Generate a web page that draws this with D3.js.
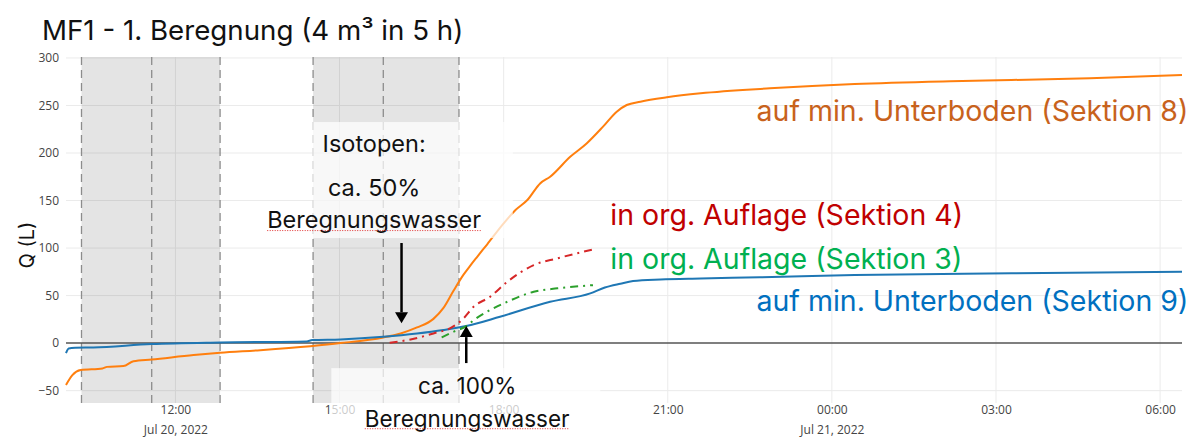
<!DOCTYPE html>
<html>
<head>
<meta charset="utf-8">
<script src="https://cdn.jsdelivr.net/npm/d3@7"></script>
<style>
  body { margin: 0; background: #fff; }
  svg { display: block; }
</style>
</head>
<body>
<svg id="chart" width="1192" height="437"></svg>
<script>
// ---- Data -------------------------------------------------------------
// Cumulative discharge Q (L) per section, MF1 first irrigation run.
const timesS8 = ["2022-07-20 10:00","2022-07-20 10:07","2022-07-20 10:16","2022-07-20 10:40","2022-07-20 10:45",
  "2022-07-20 11:03","2022-07-20 11:14","2022-07-20 11:34","2022-07-20 12:20","2022-07-20 12:49","2022-07-20 13:33",
  "2022-07-20 14:28","2022-07-20 15:01","2022-07-20 15:48","2022-07-20 16:07","2022-07-20 16:25","2022-07-20 16:43",
  "2022-07-20 16:54","2022-07-20 17:05","2022-07-20 17:16","2022-07-20 17:23","2022-07-20 17:31","2022-07-20 17:42",
  "2022-07-20 18:00","2022-07-20 18:13","2022-07-20 18:26","2022-07-20 18:40","2022-07-20 18:51","2022-07-20 19:13",
  "2022-07-20 19:31","2022-07-20 19:49","2022-07-20 20:04","2022-07-20 20:15","2022-07-20 20:30","2022-07-20 20:59",
  "2022-07-20 21:36","2022-07-20 22:52","2022-07-21 00:25","2022-07-21 02:10","2022-07-21 03:17","2022-07-21 04:43",
  "2022-07-21 06:24"];
const valuesS8 = [-44, -33.7, -28.4, -26.6, -25, -24.2, -19, -17.2, -12.6, -10.2, -7.4,
  -3.2, 0, 6, 10.2, 16.5, 25.5, 37, 55, 72, 81, 90.8, 104,
  126, 140, 150.5, 168, 175, 196, 210, 227.7, 243.5, 250.5, 254, 258.6,
  262.8, 268, 272.6, 275.5, 276.8, 278.6, 282];

const timesS9 = ["2022-07-20 10:00","2022-07-20 10:03","2022-07-20 10:10","2022-07-20 10:30","2022-07-20 11:34",
  "2022-07-20 12:49","2022-07-20 14:24","2022-07-20 14:30","2022-07-20 15:01","2022-07-20 15:48","2022-07-20 16:25",
  "2022-07-20 16:54","2022-07-20 17:19","2022-07-20 17:56","2022-07-20 18:51","2022-07-20 19:35","2022-07-20 19:51",
  "2022-07-20 20:08","2022-07-20 20:22","2022-07-20 20:52","2022-07-20 21:36","2022-07-20 22:41","2022-07-21 00:25",
  "2022-07-21 03:17","2022-07-21 06:24"];
const valuesS9 = [-10.5, -5.6, -4.9, -4.5, -1, 0.7, 1.8, 3.2, 3.9, 6.6, 10,
  13.7, 17.9, 27.7, 43.5, 52.3, 58.5, 62.5, 65.3, 67, 68, 69.2, 71.6, 73.5, 75];

const timesS4 = ["2022-07-20 15:55","2022-07-20 16:18","2022-07-20 16:43","2022-07-20 17:03","2022-07-20 17:16",
  "2022-07-20 17:27","2022-07-20 17:45","2022-07-20 18:04","2022-07-20 18:33","2022-07-20 18:59","2022-07-20 19:38"];
const valuesS4 = [0.3, 3.9, 10.2, 16.5, 26, 38.2, 48.7, 64.5, 82.1, 89.2, 98.6];

const timesS3 = ["2022-07-20 16:52","2022-07-20 17:05","2022-07-20 17:19","2022-07-20 17:27","2022-07-20 17:45",
  "2022-07-20 18:04","2022-07-20 18:33","2022-07-20 18:59","2022-07-20 19:38"];
const valuesS3 = [6, 11.9, 17.9, 24, 34.7, 43.5, 54, 57.6, 61];

// Irrigation periods (start, midpoint, end)
const rainStart = ["2022-07-20 10:17", "2022-07-20 14:31"];
const rainMid   = ["2022-07-20 11:34", "2022-07-20 15:48"];
const rainEnd   = ["2022-07-20 12:49", "2022-07-20 17:11"];

// Axis ticks
const yTicks = [-50, 0, 50, 100, 150, 200, 250, 300];
const xTicks = ["2022-07-20 12:00","2022-07-20 15:00","2022-07-20 18:00","2022-07-20 21:00",
  "2022-07-21 00:00","2022-07-21 03:00","2022-07-21 06:00"];
const xTickLabels = ["12:00","15:00","18:00","21:00","00:00","03:00","06:00"];
const xTickDates  = ["Jul 20, 2022","","","","Jul 21, 2022","",""];

// ---- Setup ------------------------------------------------------------
const parse = d3.timeParse("%Y-%m-%d %H:%M");
const svg = d3.select("#chart");
const plot = { left: 66, right: 1182, top: 57, bottom: 403 };
const FONT = "Inter, 'Noto Sans', sans-serif";
const TICKFONT = "'Open Sans', sans-serif";

const x = d3.scaleTime()
  .domain([parse("2022-07-20 10:00"), parse("2022-07-21 06:24")])
  .range([plot.left, plot.right]);
const y = d3.scaleLinear().domain([-63, 301]).range([plot.bottom, plot.top]);

const series = [
  { t: timesS8, v: valuesS8, color: "#ff7f0e", dash: null },
  { t: timesS9, v: valuesS9, color: "#1f77b4", dash: null },
  { t: timesS4, v: valuesS4, color: "#d62728", dash: "8,5,2,5" },
  { t: timesS3, v: valuesS3, color: "#2ca02c", dash: "8,5,2,5" }
];

// ---- Grid -------------------------------------------------------------
const grid = svg.append("g");
grid.selectAll("line.h").data(yTicks.filter(d => d !== 0)).join("line")
  .attr("x1", plot.left).attr("x2", plot.right)
  .attr("y1", d => y(d)).attr("y2", d => y(d))
  .attr("stroke", "#ebebeb").attr("stroke-width", 1);
grid.selectAll("line.v").data(xTicks).join("line")
  .attr("x1", d => x(parse(d))).attr("x2", d => x(parse(d)))
  .attr("y1", plot.top).attr("y2", plot.bottom)
  .attr("stroke", "#ebebeb").attr("stroke-width", 1);

// ---- Irrigation bands ------------------------------------------------
const bands = svg.append("g");
rainStart.forEach((s, i) => {
  const x0 = x(parse(s)), x1 = x(parse(rainEnd[i])), xm = x(parse(rainMid[i]));
  bands.append("rect")
    .attr("x", x0).attr("y", plot.top)
    .attr("width", x1 - x0).attr("height", plot.bottom - plot.top)
    .attr("fill", "rgba(0,0,0,0.105)");
  [x0, xm, x1].forEach(xx => {
    bands.append("line")
      .attr("x1", xx).attr("x2", xx).attr("y1", plot.top).attr("y2", plot.bottom)
      .attr("stroke", "#8c8c8c").attr("stroke-width", 1.3)
      .attr("stroke-dasharray", "8,5");
  });
});

// ---- Zero line -------------------------------------------------------
svg.append("line")
  .attr("x1", plot.left).attr("x2", plot.right)
  .attr("y1", y(0)).attr("y2", y(0))
  .attr("stroke", "#555").attr("stroke-width", 1.5);

// ---- Axes labels -----------------------------------------------------
const yAxis = d3.axisLeft(y).tickValues(yTicks).tickSize(0).tickPadding(7);
const gy = svg.append("g").attr("transform", `translate(${plot.left},0)`).call(yAxis);
gy.select(".domain").remove();
gy.selectAll("text").attr("font-family", TICKFONT).attr("font-size", 12).attr("fill", "#444");

const xAxis = d3.axisBottom(x)
  .tickValues(xTicks.map(parse))
  .tickSize(0).tickPadding(0)
  .tickFormat((d, i) => xTickLabels[i]);
const gx = svg.append("g").attr("transform", `translate(0,${plot.bottom})`).call(xAxis);
gx.select(".domain").remove();
gx.selectAll("text").attr("font-family", TICKFONT).attr("font-size", 12).attr("fill", "#444")
  .attr("dy", null).attr("y", 11)
  .each(function(d, i) {
    if (xTickDates[i]) {
      d3.select(this.parentNode).append("text")
        .attr("y", 30.5).attr("fill", "#444")
        .attr("font-family", TICKFONT).attr("font-size", 12)
        .attr("text-anchor", "middle")
        .text(xTickDates[i]);
    }
  });

// ---- Lines -----------------------------------------------------------
const lineGen = d3.line().x(d => x(d[0])).y(d => y(d[1])).curve(d3.curveMonotoneX);
series.forEach(s => {
  const pts = s.t.map((t, i) => [parse(t), s.v[i]]);
  svg.append("path").datum(pts)
    .attr("d", lineGen)
    .attr("fill", "none")
    .attr("stroke", s.color)
    .attr("stroke-width", 2)
    .attr("stroke-linejoin", "round")
    .attr("stroke-dasharray", s.dash);
});

// ---- Annotation boxes --------------------------------------------------
const boxes = [
  { t0: "2022-07-20 14:30", t1: "2022-07-20 18:10", v0: 110.5, v1: 232.6 },
  { t0: "2022-07-20 14:51", t1: "2022-07-20 19:46", v0: -99, v1: -26.3 }
];
boxes.forEach(b => {
  svg.append("rect")
    .attr("x", x(parse(b.t0))).attr("y", y(b.v1))
    .attr("width", x(parse(b.t1)) - x(parse(b.t0)))
    .attr("height", y(b.v0) - y(b.v1))
    .attr("fill", "rgba(255,255,255,0.72)");
});

// ---- Arrows ----------------------------------------------------------
function arrow(t, vFrom, vTo) {
  const xx = x(parse(t)), yFrom = y(vFrom), yTo = y(vTo);
  const dir = Math.sign(yTo - yFrom);
  const headLen = 11, headHalf = 6.5;
  svg.append("line")
    .attr("x1", xx).attr("x2", xx)
    .attr("y1", yFrom).attr("y2", yTo - dir * headLen)
    .attr("stroke", "#000").attr("stroke-width", 2.5);
  svg.append("path")
    .attr("d", `M${xx},${yTo} L${xx - headHalf},${yTo - dir * headLen} L${xx + headHalf},${yTo - dir * headLen} Z`)
    .attr("fill", "#000");
}
arrow("2022-07-20 16:08", 105.3, 21);
arrow("2022-07-20 17:19", -21, 17.9);

// ---- Text annotations -------------------------------------------------
const notes = [
  { t: "2022-07-20 15:38", v: 210.5, size: 23.5, text: "Isotopen:", underline: false },
  { t: "2022-07-20 15:38", v: 164.2, size: 23.5, text: "ca. 50%", underline: false },
  { t: "2022-07-20 15:38", v: 130.5, size: 23.5, text: "Beregnungswasser", underline: true },
  { t: "2022-07-20 17:20", v: -44.2, size: 22.5, text: "ca. 100%", underline: false },
  { t: "2022-07-20 17:20", v: -79, size: 22.5, text: "Beregnungswasser", underline: true }
];
notes.forEach(n => {
  const tx = svg.append("text")
    .attr("x", x(parse(n.t))).attr("y", y(n.v))
    .attr("text-anchor", "middle").attr("dominant-baseline", "central")
    .attr("font-family", FONT).attr("font-size", n.size).attr("fill", "#111")
    .text(n.text);
  if (n.underline) {
    const bb = tx.node().getBBox();
    svg.append("line")
      .attr("x1", bb.x).attr("x2", bb.x + bb.width)
      .attr("y1", bb.y + bb.height - 3).attr("y2", bb.y + bb.height - 3)
      .attr("stroke", "#e03030").attr("stroke-width", 1)
      .attr("stroke-dasharray", "1,1.5");
  }
});

// ---- Series labels ----------------------------------------------------
const seriesLabels = [
  { t: "2022-07-21 06:31", v: 245, anchor: "end", color: "#c8621c", text: "auf min. Unterboden (Sektion 8)" },
  { t: "2022-07-20 19:57", v: 135.8, anchor: "start", color: "#c00000", text: "in org. Auflage (Sektion 4)" },
  { t: "2022-07-20 19:57", v: 89.5, anchor: "start", color: "#00b050", text: "in org. Auflage (Sektion 3)" },
  { t: "2022-07-21 06:31", v: 45.3, anchor: "end", color: "#0070c0", text: "auf min. Unterboden (Sektion 9)" }
];
seriesLabels.forEach(l => {
  svg.append("text")
    .attr("x", x(parse(l.t))).attr("y", y(l.v))
    .attr("text-anchor", l.anchor).attr("dominant-baseline", "central")
    .attr("font-family", FONT).attr("font-size", 28.5).attr("fill", l.color)
    .text(l.text);
});

// ---- Title & axis title ----------------------------------------------
svg.append("text")
  .attr("x", 42).attr("y", 40)
  .attr("font-family", FONT).attr("font-size", 27.7).attr("fill", "#111")
  .text("MF1 - 1. Beregnung (4 m³ in 5 h)");
svg.append("text")
  .attr("transform", `translate(27,${(plot.top + plot.bottom) / 2 + 15}) rotate(-90)`)
  .attr("text-anchor", "middle").attr("dominant-baseline", "central")
  .attr("font-family", FONT).attr("font-size", 20).attr("fill", "#111")
  .text("Q (L)");
</script>
</body>
</html>
